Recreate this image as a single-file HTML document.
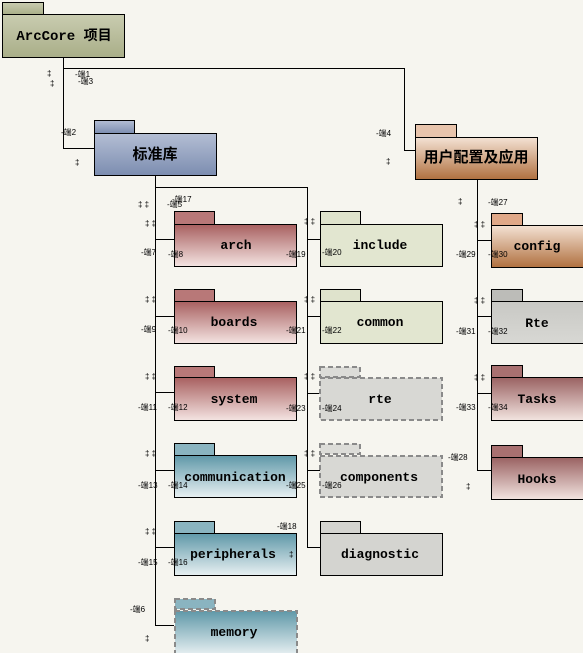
<!DOCTYPE html>
<html><head><meta charset="utf-8"><style>
html,body{margin:0;padding:0;background:#f6f5ef;}
svg{display:block}
text{font-family:"Liberation Mono","Noto Sans CJK SC",monospace;font-weight:bold;}
.s{font-size:8px;font-weight:normal;font-family:"Liberation Sans","Noto Sans CJK SC",sans-serif}
</style></head><body>
<svg width="583" height="653" viewBox="0 0 583 653" xmlns="http://www.w3.org/2000/svg">
<defs>
<linearGradient id="olive" x1="0" y1="0" x2="0" y2="1"><stop offset="0" stop-color="#c9ccb0"/><stop offset="1" stop-color="#a9ae88"/></linearGradient>
<linearGradient id="blue" x1="0" y1="0" x2="0" y2="1"><stop offset="0" stop-color="#b4bed4"/><stop offset="1" stop-color="#7c8db0"/></linearGradient>
<linearGradient id="org" x1="0" y1="0" x2="0" y2="1"><stop offset="0" stop-color="#f4e2d4"/><stop offset="1" stop-color="#b0703f"/></linearGradient>
<linearGradient id="red" x1="0" y1="0" x2="0" y2="1"><stop offset="0" stop-color="#a86060"/><stop offset="1" stop-color="#f4e4e2"/></linearGradient>
<linearGradient id="teal" x1="0" y1="0" x2="0" y2="1"><stop offset="0" stop-color="#5f98a8"/><stop offset="1" stop-color="#e8f0f2"/></linearGradient>
<linearGradient id="brn" x1="0" y1="0" x2="0" y2="1"><stop offset="0" stop-color="#9a6262"/><stop offset="1" stop-color="#f2e4e0"/></linearGradient>
<linearGradient id="gray" x1="0" y1="0" x2="0" y2="1"><stop offset="0" stop-color="#c8c8c4"/><stop offset="1" stop-color="#d8d8d4"/></linearGradient>
</defs>
<g stroke="#000" stroke-width="1" fill="none">
<path d="M63.5 57V148.5H94"/>
<path d="M63.5 68.5H404.5V150.5H415"/>
<path d="M155.5 175V625.5H174"/>
<path d="M155 239.5H174M155 316.5H174M155 392.5H174M155 470.5H174M155 547.5H174"/>
<path d="M155 187.5H307.5V547.5H320"/>
<path d="M307 239.5H320M307 316.5H320M307 393.5H320M307 470.5H320"/>
<path d="M477.5 179V470.5H491M477 240.5H491M477 316.5H491M477 393.5H491"/>
</g>
<g stroke="#000" stroke-width="1">
<rect x="2.5" y="2.5" width="41" height="12" fill="url(#olive)"/>
<rect x="2.5" y="14.5" width="122" height="43" fill="url(#olive)"/>
<rect x="94.5" y="120.5" width="40" height="13" fill="url(#blue)"/>
<rect x="94.5" y="133.5" width="122" height="42" fill="url(#blue)"/>
<rect x="415.5" y="124.5" width="41" height="13" fill="#e8c4ac"/>
<rect x="415.5" y="137.5" width="122" height="42" fill="url(#org)"/>
</g>
<text x="64" y="40" font-size="14" text-anchor="middle">ArcCore 项目</text>
<text x="155" y="159" font-size="15" text-anchor="middle">标准库</text>
<text x="476" y="162" font-size="15" text-anchor="middle">用户配置及应用</text>
<g stroke="#000" stroke-width="1">
<rect x="174.5" y="211.5" width="40" height="13" fill="#b87878"/><rect x="174.5" y="224.5" width="122" height="42" fill="url(#red)"/>
<rect x="174.5" y="289.5" width="40" height="12" fill="#b87878"/><rect x="174.5" y="301.5" width="122" height="42" fill="url(#red)"/>
<rect x="174.5" y="366.5" width="40" height="11" fill="#b87878"/><rect x="174.5" y="377.5" width="122" height="43" fill="url(#red)"/>
<rect x="174.5" y="443.5" width="40" height="12" fill="#8ab4c0"/><rect x="174.5" y="455.5" width="122" height="42" fill="url(#teal)"/>
<rect x="174.5" y="521.5" width="40" height="12" fill="#8ab4c0"/><rect x="174.5" y="533.5" width="122" height="42" fill="url(#teal)"/>
<rect x="320.5" y="211.5" width="40" height="13" fill="#dfe3cc"/><rect x="320.5" y="224.5" width="122" height="42" fill="#e2e6d0"/>
<rect x="320.5" y="289.5" width="40" height="12" fill="#dfe3cc"/><rect x="320.5" y="301.5" width="122" height="42" fill="#e2e6d0"/>
<rect x="320.5" y="521.5" width="40" height="12" fill="#d4d4d0"/><rect x="320.5" y="533.5" width="122" height="42" fill="#d4d4d0"/>
<rect x="491.5" y="213.5" width="31" height="12" fill="#e0a888"/><rect x="491.5" y="225.5" width="100" height="42" fill="url(#org)"/>
<rect x="491.5" y="289.5" width="31" height="12" fill="#bcbcb8"/><rect x="491.5" y="301.5" width="100" height="42" fill="url(#gray)"/>
<rect x="491.5" y="365.5" width="31" height="12" fill="#a87070"/><rect x="491.5" y="377.5" width="100" height="43" fill="url(#brn)"/>
<rect x="491.5" y="445.5" width="31" height="12" fill="#a87070"/><rect x="491.5" y="457.5" width="100" height="42" fill="url(#brn)"/>
</g>
<g stroke="#8a8a8a" stroke-width="2" stroke-dasharray="5,3">
<rect x="320" y="367" width="40" height="10" fill="#dcdcd8"/><rect x="320" y="378" width="122" height="42" fill="#d8d8d4"/>
<rect x="320" y="444" width="40" height="10" fill="#dcdcd8"/><rect x="320" y="456" width="122" height="41" fill="#d8d8d4"/>
<rect x="175" y="599" width="40" height="10" fill="#8ab4c0"/><rect x="175" y="611" width="122" height="44" fill="url(#teal)"/>
</g>
<g font-size="13" text-anchor="middle">
<text x="236" y="249">arch</text>
<text x="234" y="326">boards</text>
<text x="234" y="403">system</text>
<text x="235" y="481">communication</text>
<text x="233" y="558">peripherals</text>
<text x="234" y="636">memory</text>
<text x="380" y="249">include</text>
<text x="380" y="326">common</text>
<text x="380" y="403">rte</text>
<text x="379" y="481">components</text>
<text x="380" y="558">diagnostic</text>
<text x="537" y="250">config</text>
<text x="537" y="327">Rte</text>
<text x="537" y="403">Tasks</text>
<text x="537" y="483">Hooks</text>
</g>
<g class="s">
<text class="s" x="75" y="77">-端1</text><text class="s" x="78" y="84">-端3</text>
<text class="s" x="47" y="76">‡</text><text class="s" x="50" y="86">‡</text>
<text class="s" x="61" y="135">-端2</text><text class="s" x="75" y="165">‡</text>
<text class="s" x="376" y="136">-端4</text><text class="s" x="386" y="164">‡</text>
<text class="s" x="172" y="202">-端17</text><text class="s" x="167" y="207">-端5</text>
<text class="s" x="138" y="207">‡ ‡</text>
<text class="s" x="458" y="204">‡</text><text class="s" x="488" y="205">-端27</text>
<text class="s" x="141" y="255">-端7</text><text class="s" x="168" y="257">-端8</text><text class="s" x="286" y="257">-端19</text><text class="s" x="322" y="255">-端20</text>
<text class="s" x="141" y="332">-端9</text><text class="s" x="168" y="333">-端10</text><text class="s" x="286" y="333">-端21</text><text class="s" x="322" y="333">-端22</text>
<text class="s" x="138" y="410">-端11</text><text class="s" x="168" y="410">-端12</text><text class="s" x="286" y="411">-端23</text><text class="s" x="322" y="411">-端24</text>
<text class="s" x="138" y="488">-端13</text><text class="s" x="168" y="488">-端14</text><text class="s" x="286" y="488">-端25</text><text class="s" x="322" y="488">-端26</text>
<text class="s" x="138" y="565">-端15</text><text class="s" x="168" y="565">-端16</text><text class="s" x="277" y="529">-端18</text><text class="s" x="289" y="557">‡</text>
<text class="s" x="130" y="612">-端6</text><text class="s" x="145" y="641">‡</text>
<text class="s" x="456" y="257">-端29</text><text class="s" x="488" y="257">-端30</text>
<text class="s" x="456" y="334">-端31</text><text class="s" x="488" y="334">-端32</text>
<text class="s" x="456" y="410">-端33</text><text class="s" x="488" y="410">-端34</text>
<text class="s" x="448" y="460">-端28</text><text class="s" x="466" y="489">‡</text>
<text class="s" x="145" y="226">‡ ‡</text><text class="s" x="145" y="302">‡ ‡</text><text class="s" x="145" y="379">‡ ‡</text><text class="s" x="145" y="456">‡ ‡</text><text class="s" x="145" y="534">‡ ‡</text>
<text class="s" x="304" y="224">‡ ‡</text><text class="s" x="304" y="302">‡ ‡</text><text class="s" x="304" y="379">‡ ‡</text><text class="s" x="304" y="456">‡ ‡</text>
<text class="s" x="474" y="227">‡ ‡</text><text class="s" x="474" y="303">‡ ‡</text><text class="s" x="474" y="380">‡ ‡</text>
</g>
</svg>
</body></html>
